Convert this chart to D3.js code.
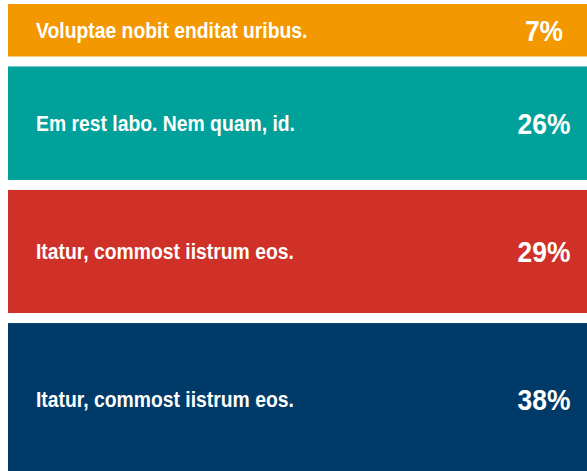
<!DOCTYPE html>
<html>
<head>
<meta charset="utf-8">
<script src="https://cdn.jsdelivr.net/npm/d3@7"></script>
<style>
  html, body { margin: 0; padding: 0; background: #fff; overflow: hidden; }
  svg { display: block; }
  .label { font-family: "Liberation Sans", Arial, sans-serif; font-weight: bold; fill: #fff; }
</style>
</head>
<body>
<div id="chart"></div>
<script>
const labels = [
  "Voluptae nobit enditat uribus.",
  "Em rest labo. Nem quam, id.",
  "Itatur, commost iistrum eos.",
  "Itatur, commost iistrum eos."
];
const values = [7, 26, 29, 38];
const colors = ["#f39800", "#00a19a", "#cf3027", "#003a68"];

const width = 587, height = 471;
const margin = {top: 4, left: 8};
const gap = 10;

const svg = d3.select("#chart").append("svg")
  .attr("width", width)
  .attr("height", height);

// band height grows with the share
const h = d3.scaleLinear().domain([0, d3.max(values)]).range([30, 152]);

// stack the bands
let acc = margin.top;
const rows = values.map((v, i) => {
  const r = {label: labels[i], value: v, color: colors[i], y: acc, h: h(v)};
  acc += r.h + gap;
  return r;
});

const g = svg.selectAll("g.row").data(rows).enter().append("g")
  .attr("class", "row")
  .attr("transform", d => `translate(0,${d.y})`);

g.append("rect")
  .attr("x", margin.left)
  .attr("y", 0)
  .attr("width", width + 20)
  .attr("height", d => d.h)
  .attr("fill", d => d.color);

// no narrow face installed, so squeeze the bold one horizontally
g.append("text")
  .attr("class", "label")
  .attr("transform", d => `translate(36,${d.h / 2 + 7.5}) scale(0.86,1)`)
  .style("font-size", "22.5px")
  .text(d => d.label);

g.append("text")
  .attr("class", "label")
  .attr("transform", d => `translate(544,${d.h / 2 + 10.5}) scale(0.88,1)`)
  .attr("text-anchor", "middle")
  .style("font-size", "30px")
  .text(d => d.value + "%");
</script>
</body>
</html>
